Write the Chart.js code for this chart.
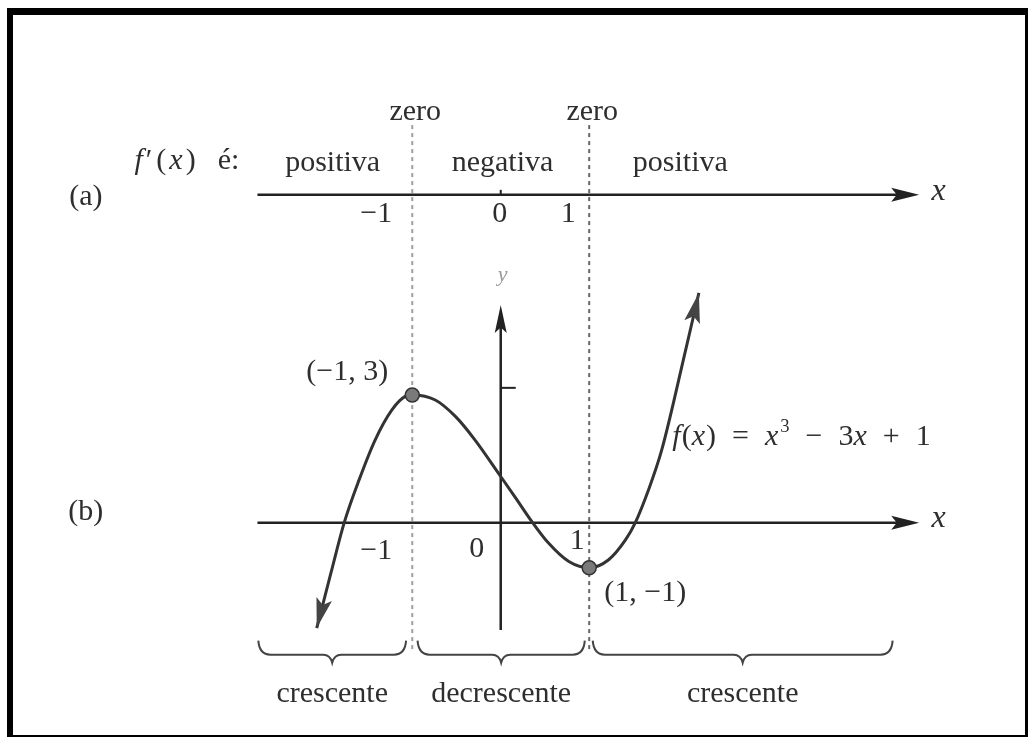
<!DOCTYPE html>
<html lang="pt-BR">
<head>
<meta charset="UTF-8">
<title>f(x) = x³ − 3x + 1</title>
<script src="https://cdn.jsdelivr.net/npm/chart.js@4"></script>
<style>
  html, body { margin: 0; padding: 0; background: #fff; }
  #wrap { position: relative; width: 1028px; height: 737px; overflow: hidden; }
  #frame { position: absolute; left: 7px; top: 8px; width: 1012px; height: 720px;
           border: solid #000; border-width: 7px 3px 7px 6px; pointer-events: none; }
</style>
</head>
<body>
<div id="wrap">
  <canvas id="grafico"></canvas>
  <div id="frame"></div>
</div>
<script>
// pontos (curva deformada como no livro)
const curveX = [-2.08, -1.92, -1.77, -1.6, -1.42, -1.23, -1.08, -1.0, -0.74, -0.51, -0.29, 0,
                0.17, 0.34, 0.54, 0.77, 1.0, 1.22, 1.41, 1.52, 1.67, 1.82, 2.09, 2.24];
const curveY = [-2.34, -1.12, 0, 0.96, 1.84, 2.51, 2.81, 2.84, 2.73, 2.36, 1.84, 1.03,
                0.55, 0.06, -0.45, -0.86, -1.0, -0.82, -0.38, 0, 0.73, 1.62, 3.84, 5.11];
const extremaX = [-1.0, 1.0];
const extremaY = [2.84, -1.0];
const extremaLabels = ['(−1, 3)', '(1, −1)'];
const criticalX = [-1, 1];
const tickValues = [-1, 0, 1];
const tickLabels = ['−1', '0', '1'];
const yTick = 3;
const signLabels = ['positiva', 'negativa', 'positiva'];
const trendLabels = ['crescente', 'decrescente', 'crescente'];

// layout (unidades do gráfico)
const X_MIN = -5.66, X_MAX = 5.96, Y_MIN = -4.76, Y_MAX = 11.62;
const LINE_A_Y = 7.29;
const AXIS_LEFT = -2.75, AXIS_RIGHT = 4.73;
const Y_AXIS_BOTTOM = -2.38, Y_AXIS_TOP = 4.84;
const DASH_TOP = 8.84, DASH_BOTTOM = -2.82;
const BRACE_Y = -2.93;
const braceFrom = [-2.74, -0.94, 1.04];
const braceTo = [-1.07, 0.95, 4.43];
const signLabelX = [-1.90, 0.02, 2.03];
const dashColors = ['#a0a0a0', '#666'];
const tickOffA = [[-36, 18], [-1, 18], [-21, 18]];
const tickOffB = [[-36, 27], [-24, 25], [-12, 17]];
const extremaOff = [[-65, -23], [56, 25]];

const SERIF = '"Liberation Serif", "DejaVu Serif", serif';
const INK = '#2e2e2e';

function setFont(ctx, size, italic) {
  ctx.font = (italic ? 'italic ' : '') + size + 'px ' + SERIF;
}

function label(ctx, str, x, y, size, align, italic, color) {
  setFont(ctx, size, italic);
  ctx.fillStyle = color || INK;
  ctx.textAlign = align || 'center';
  ctx.textBaseline = 'middle';
  ctx.fillText(str, x, y);
}

// texto com partes em itálico / sobrescrito, escrito da esquerda
function rich(ctx, parts, x, y, size, space) {
  ctx.fillStyle = INK;
  ctx.textAlign = 'left';
  ctx.textBaseline = 'middle';
  let cx = x;
  parts.forEach(p => {
    if (p.t === ' ') { cx += space; return; }
    const s = p.sup ? size * 0.62 : size;
    setFont(ctx, s, p.i);
    ctx.fillText(p.t, cx, p.sup ? y - size * 0.32 : y);
    cx += ctx.measureText(p.t).width + (p.gap || 0);
  });
}

function arrowHead(ctx, x0, y0, x1, y1, len, half) {
  const a = Math.atan2(y1 - y0, x1 - x0);
  const c = Math.cos(a), s = Math.sin(a);
  ctx.beginPath();
  ctx.moveTo(x1, y1);
  ctx.lineTo(x1 - len * c + half * s, y1 - len * s - half * c);
  ctx.lineTo(x1 - len * c * 0.8, y1 - len * s * 0.8);
  ctx.lineTo(x1 - len * c - half * s, y1 - len * s + half * c);
  ctx.closePath();
  ctx.fill();
}

function brace(ctx, x1, x2, y) {
  const m = (x1 + x2) / 2;
  ctx.beginPath();
  ctx.moveTo(x1, y - 14);
  ctx.quadraticCurveTo(x1 + 1, y, x1 + 12, y);
  ctx.lineTo(m - 9, y);
  ctx.quadraticCurveTo(m - 2, y, m, y + 8);
  ctx.quadraticCurveTo(m + 2, y, m + 9, y);
  ctx.lineTo(x2 - 12, y);
  ctx.quadraticCurveTo(x2 - 1, y, x2, y - 14);
  ctx.stroke();
}

const figura = {
  id: 'figura',
  beforeDatasetsDraw(chart) {
    const ctx = chart.ctx;
    const X = v => chart.scales.x.getPixelForValue(v);
    const Y = v => chart.scales.y.getPixelForValue(v);
    ctx.save();

    // linhas tracejadas nos zeros de f'
    ctx.lineWidth = 2;
    ctx.setLineDash([4, 4]);
    criticalX.forEach((v, i) => {
      ctx.strokeStyle = dashColors[i];
      ctx.beginPath();
      ctx.moveTo(X(v), Y(DASH_TOP));
      ctx.lineTo(X(v), Y(DASH_BOTTOM));
      ctx.stroke();
    });
    ctx.setLineDash([]);

    // reta (a) e eixo x de (b)
    ctx.strokeStyle = '#222';
    ctx.fillStyle = '#222';
    ctx.lineWidth = 2.5;
    [LINE_A_Y, 0].forEach(yy => {
      ctx.beginPath();
      ctx.moveTo(X(AXIS_LEFT), Y(yy));
      ctx.lineTo(X(AXIS_RIGHT) - 20, Y(yy));
      ctx.stroke();
      arrowHead(ctx, X(AXIS_LEFT), Y(yy), X(AXIS_RIGHT), Y(yy), 28, 7);
    });
    // marca do zero em (a)
    ctx.lineWidth = 2;
    ctx.beginPath();
    ctx.moveTo(X(0), Y(LINE_A_Y));
    ctx.lineTo(X(0), Y(LINE_A_Y) - 5);
    ctx.stroke();

    // eixo y
    ctx.lineWidth = 2.5;
    ctx.beginPath();
    ctx.moveTo(X(0), Y(Y_AXIS_BOTTOM));
    ctx.lineTo(X(0), Y(Y_AXIS_TOP) + 20);
    ctx.stroke();
    arrowHead(ctx, X(0), Y(Y_AXIS_BOTTOM), X(0), Y(Y_AXIS_TOP), 28, 6);
    ctx.lineWidth = 2;
    ctx.beginPath();
    ctx.moveTo(X(0), Y(yTick));
    ctx.lineTo(X(0) + 15, Y(yTick));
    ctx.stroke();

    // chaves
    ctx.strokeStyle = '#444';
    ctx.lineWidth = 2;
    braceFrom.forEach((b, i) => brace(ctx, X(b), X(braceTo[i]), Y(BRACE_Y)));
    ctx.restore();
  },
  afterDatasetsDraw(chart) {
    const ctx = chart.ctx;
    const X = v => chart.scales.x.getPixelForValue(v);
    const Y = v => chart.scales.y.getPixelForValue(v);
    ctx.save();

    // pontas da curva
    ctx.fillStyle = '#444';
    const n = curveX.length;
    arrowHead(ctx, X(curveX[1]), Y(curveY[1]), X(curveX[0]), Y(curveY[0]), 30, 8);
    arrowHead(ctx, X(curveX[n - 2]), Y(curveY[n - 2]), X(curveX[n - 1]), Y(curveY[n - 1]), 30, 8);

    // rótulos de (a)
    label(ctx, '(a)', X(-4.69), Y(7.27) + 1, 30);
    label(ctx, '(b)', X(-4.69), Y(0.24), 30);
    criticalX.forEach(v => label(ctx, 'zero', X(v) + 3, Y(9.18) + 2, 30));
    rich(ctx, [{ t: 'f', i: true, gap: 3 }, { t: '′', gap: 4 }, { t: '(', gap: 3 }, { t: 'x', i: true, gap: 3 },
               { t: ')' }, { t: ' ' }, { t: 'é:', gap: 0 }], X(-4.14), Y(8.04), 30, 22);
    signLabels.forEach((s, i) => label(ctx, s, X(signLabelX[i]), Y(8.04) + 2, 30));
    label(ctx, 'x', X(4.95), Y(LINE_A_Y) - 3, 32, 'center', true);
    label(ctx, 'x', X(4.95), Y(0) - 4, 32, 'center', true);
    tickValues.forEach((v, i) => {
      label(ctx, tickLabels[i], X(v) + tickOffA[i][0], Y(LINE_A_Y) + tickOffA[i][1] + 1, 30);
      label(ctx, tickLabels[i], X(v) + tickOffB[i][0], Y(0) + tickOffB[i][1] + 1, 30);
    });
    label(ctx, 'y', X(0) + 2, Y(5.5), 22, 'center', true, '#9a9a9a');

    // pontos críticos e fórmula
    extremaX.forEach((v, i) => {
      label(ctx, extremaLabels[i], X(v) + extremaOff[i][0], Y(extremaY[i]) + extremaOff[i][1], 30);
    });
    rich(ctx, [{ t: 'f', i: true, gap: 1 }, { t: '(' }, { t: 'x', i: true, gap: 1 }, { t: ')' }, { t: ' ' },
               { t: '=' }, { t: ' ' }, { t: 'x', i: true, gap: 2 }, { t: '3', sup: true }, { t: ' ' },
               { t: '−' }, { t: ' ' }, { t: '3' }, { t: 'x', i: true }, { t: ' ' }, { t: '+' }, { t: ' ' },
               { t: '1' }], X(1.94), Y(1.91), 30, 16);

    // crescente / decrescente
    trendLabels.forEach((s, i) => label(ctx, s, X((braceFrom[i] + braceTo[i]) / 2), Y(-3.71) + 4, 30));
    ctx.restore();
  }
};

const ctx = document.getElementById('grafico').getContext('2d');
new Chart(ctx, {
  type: 'scatter',
  data: {
    datasets: [
      {
        label: 'extremos',
        data: extremaX.map((x, i) => ({ x: x, y: extremaY[i] })),
        pointRadius: 7,
        pointBackgroundColor: '#7a7a7a',
        pointBorderColor: '#333',
        pointBorderWidth: 1.5
      },
      {
        label: 'f(x)',
        data: curveX.map((x, i) => ({ x: x, y: curveY[i] })),
        showLine: true,
        pointRadius: 0,
        borderColor: '#333',
        borderWidth: 3,
        cubicInterpolationMode: 'monotone',
        clip: false
      }
    ]
  },
  options: {
    responsive: true,
    maintainAspectRatio: false,
    animation: false,
    layout: { padding: 0, autoPadding: false },
    plugins: { legend: { display: false }, tooltip: { enabled: false } },
    scales: {
      x: { type: 'linear', display: false, min: X_MIN, max: X_MAX },
      y: { type: 'linear', display: false, min: Y_MIN, max: Y_MAX }
    }
  },
  plugins: [figura]
});
</script>
</body>
</html>
